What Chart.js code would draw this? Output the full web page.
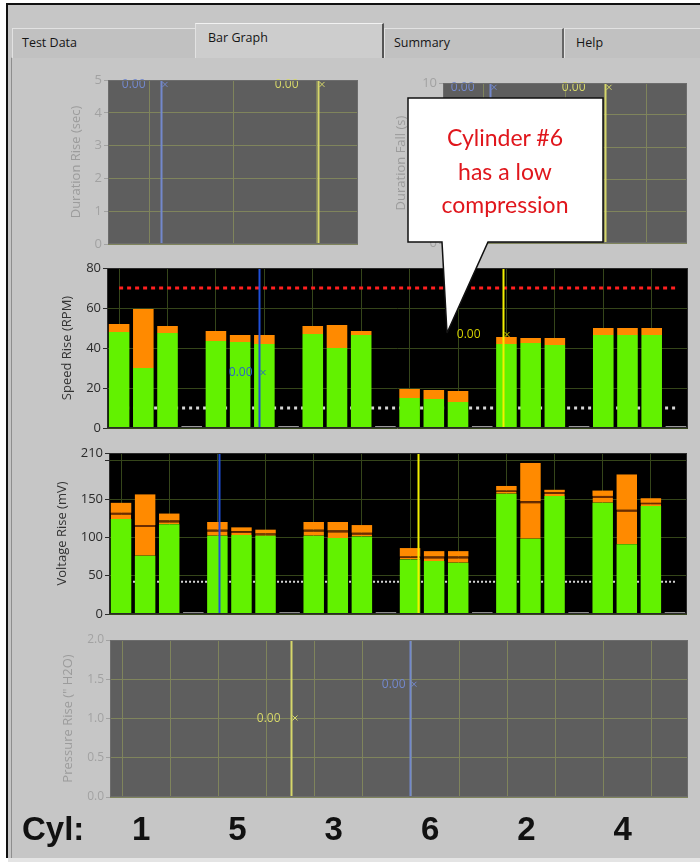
<!DOCTYPE html>
<html lang="en">
  <head>
    <meta charset="utf-8" />
    <title>Bar Graph</title>
    <style>
      * {
        margin: 0;
        padding: 0;
        box-sizing: border-box;
      }
      body {
        width: 700px;
        height: 865px;
        background: #fff;
        position: relative;
        overflow: hidden;
        font-family: 'Open Sans', sans-serif;
      }
      .frame {
        position: absolute;
        left: 6px;
        top: 3px;
        width: 694px;
        height: 855px;
        background: #c6c6c6;
        border-left: 2px solid #111;
        border-top: 2px solid #111;
      }
      .panel {
        position: absolute;
        left: 11px;
        top: 57px;
        width: 689px;
        height: 801px;
        border-left: 1px solid #8e8e8e;
        border-top: 1px solid #dcdcdc;
      }
      .strip {
        position: absolute;
        left: 8px;
        top: 858px;
        width: 692px;
        height: 4px;
        background: #e4e4e4;
      }
      .tab {
        position: absolute;
        top: 28px;
        height: 30px;
        background: #c1c1c1;
        border-top: 1px solid #e2e2e2;
        border-left: 1px solid #e2e2e2;
        font-size: 12.5px;
        line-height: 27px;
        color: #151515;
        padding-left: 9px;
      }
      .tab.sel {
        top: 23px;
        height: 35px;
        background: #cdcdcd;
        line-height: 27px;
        border-top: 1px solid #f2f2f2;
      }
      .chartBox {
        position: absolute;
      }
      .cyl {
        position: absolute;
        left: 22px;
        top: 810px;
        font: bold 33px 'Liberation Sans', sans-serif;
        color: #111;
      }
      svg.callout {
        position: absolute;
        left: 0;
        top: 0;
        width: 700px;
        height: 865px;
        pointer-events: none;
      }
    </style>
  </head>
  <body>
    <div class="frame"></div>
    <div class="panel"></div>
    <div class="strip"></div>
    <div class="tab" style="left: 12px; width: 183px">Test Data</div>
    <div class="tab sel" style="left: 195px; width: 189px; padding-left: 12px; border-right: 2px solid #555">Bar Graph</div>
    <div class="tab" style="left: 384px; width: 180px; border-right: 2px solid #666">Summary</div>
    <div class="tab" style="left: 564px; width: 136px; padding-left: 11px">Help</div>

    <div class="chartBox" style="left: 68px; top: 70px; width: 294px; height: 184px"><canvas id="riseChart"></canvas></div>
    <div class="chartBox" style="left: 393px; top: 73px; width: 298px; height: 180px"><canvas id="fallChart"></canvas></div>
    <div class="chartBox" style="left: 59px; top: 258px; width: 633px; height: 180px"><canvas id="speedChart"></canvas></div>
    <div class="chartBox" style="left: 54px; top: 443px; width: 637px; height: 181px"><canvas id="voltChart"></canvas></div>
    <div class="chartBox" style="left: 60px; top: 630px; width: 632px; height: 230px"><canvas id="pressChart"></canvas></div>
    <div class="cyl">Cyl:</div>

    <svg class="callout" xmlns="http://www.w3.org/2000/svg">
      <path d="M408 98 H603 V242 H488 L447 333 L442 242 H408 Z" fill="#fff" stroke="#111" stroke-width="1.5" />
      <g font-family="Lato, sans-serif" font-size="23" fill="#e0161c" text-anchor="middle">
        <text x="505" y="146">Cylinder #6</text>
        <text x="505" y="180">has a low</text>
        <text x="505" y="213">compression</text>
      </g>
    </svg>

    <script src="https://cdn.jsdelivr.net/npm/chart.js"></script>
    <script>
      // data: 3 readings per cylinder, firing order
      const cylinders = ['1', '5', '3', '6', '2', '4'];
      const speedGreen = [48, 30, 47.5, 43.5, 43, 42, 47, 40, 46.5, 15, 14.5, 13, 42, 42.5, 41.5, 46.5, 46.5, 46.5];
      const speedTop = [52, 59.5, 51, 48.5, 46.5, 46.5, 51, 51.5, 48.5, 19.5, 19, 18.5, 45.5, 45, 45, 50, 50, 50];
      const speedMax = 70;
      const speedMin = 10;
      const voltGreen = [124, 76, 117, 102, 103, 102, 102, 99, 101, 71, 69, 67, 157, 98, 154, 145, 91, 141];
      const voltMid = [132, 116, 122, 110, 108, 105, 110, 109, 106, 75, 75, 75, 161, 147, 159, 154, 136, 145];
      const voltTop = [145, 156, 131, 120, 113, 110, 120, 120, 116, 86, 82, 82, 167, 197, 162, 161, 182, 151];
      const voltMin = 42;
      const gapSpeed = 1;
      const gapVolt = 2.5;
      const voltTicks = [0, 50, 100, 150, 200, 210];

      // 4 slots per cylinder: 3 bars + an empty one
      const slotCount = cylinders.length * 4;
      const slot = (arr) => {
        const out = [];
        cylinders.forEach((c, g) => {
          out.push(arr[g * 3], arr[g * 3 + 1], arr[g * 3 + 2], null);
        });
        return out;
      };
      const gapSlots = (v) => Array.from({ length: slotCount }, (_, i) => (i % 4 === 3 ? v : null));
      const diff = (a, b) => a.map((v, i) => v - b[i]);
      const slotLabels = [];
      cylinders.forEach((c) => slotLabels.push('', c, '', ''));

      const faded = { bg: '#5e5e5e', grid: '#7f845c', tick: '#a2a2a2', title: '#9c9c9c', edge: '#6c6c6c' };
      const active = { bg: '#000000', grid: '#35451a', tick: '#2b2b2b', title: '#333333', edge: '#2a2a2a' };

      const plotBg = {
        id: 'plotBg',
        beforeDraw(chart, args, o) {
          const { ctx, chartArea: c } = chart;
          ctx.save();
          ctx.fillStyle = o.color;
          ctx.fillRect(c.left, c.top, c.width, c.height);
          ctx.restore();
        },
        afterDraw(chart, args, o) {
          const { ctx, chartArea: c } = chart;
          ctx.save();
          ctx.strokeStyle = o.edge;
          ctx.lineWidth = 1;
          ctx.strokeRect(c.left + 0.5, c.top + 0.5, c.width - 1, c.height - 1);
          ctx.restore();
        },
      };

      // LabVIEW style cursors
      const cursors = {
        id: 'cursors',
        afterDatasetsDraw(chart, args, o) {
          const { ctx, chartArea: a, scales } = chart;
          (o.list || []).forEach((c) => {
            const px = Math.round(scales.x.getPixelForValue(c.x)) + 0.5;
            ctx.save();
            ctx.strokeStyle = c.color;
            ctx.lineWidth = 2;
            ctx.beginPath();
            ctx.moveTo(px, a.top);
            ctx.lineTo(px, a.bottom);
            ctx.stroke();
            if (c.label) {
              const py = scales.y.getPixelForValue(c.y);
              ctx.fillStyle = c.text;
              ctx.font = '12px "Open Sans"';
              ctx.textAlign = 'right';
              ctx.textBaseline = 'middle';
              ctx.fillText(c.label, px - c.gap, py);
              ctx.lineWidth = 1;
              ctx.strokeStyle = c.text;
              ctx.beginPath();
              ctx.moveTo(px + 1, py - 3);
              ctx.lineTo(px + 6, py + 2);
              ctx.moveTo(px + 6, py - 3);
              ctx.lineTo(px + 1, py + 2);
              ctx.stroke();
            }
            ctx.restore();
          });
        },
      };

      const yScale = (theme, title, min, max, yW, extra) => ({
        min,
        max,
        stacked: true,
        ticks: { color: theme.tick, font: { family: 'Open Sans', size: 13 }, padding: 2 },
        grid: { color: theme.grid, tickColor: theme.tick, tickLength: 4 },
        border: { display: false },
        title: { display: true, text: title, color: theme.title, font: { family: 'Open Sans', size: 13 }, padding: 0 },
        afterFit: (s) => {
          s.width = yW;
        },
        ...extra,
      });

      const catScale = (theme, xH, ticks) => ({
        type: 'category',
        offset: true,
        stacked: true,
        grid: { offset: false, color: (ctx) => (ctx.index % 2 === 0 ? theme.grid : 'rgba(0,0,0,0)'), drawTicks: false },
        border: { display: false },
        ticks: ticks || { display: false },
        afterFit: (s) => {
          s.height = xH;
        },
      });

      const linScale = (theme) => ({
        type: 'linear',
        min: 0,
        max: 6,
        grid: { color: theme.grid, drawTicks: false },
        border: { display: false },
        ticks: { display: false },
        afterBuildTicks: (s) => {
          s.ticks = [1, 3, 5].map((v) => ({ value: v }));
        },
        afterFit: (s) => {
          s.height = 0;
        },
      });

      const base = (theme, list, scales, padTop, padBottom) => ({
        responsive: true,
        maintainAspectRatio: false,
        animation: false,
        layout: { padding: { left: 0, right: 4, top: padTop, bottom: padBottom } },
        scales,
        plugins: {
          legend: { display: false },
          tooltip: { enabled: false },
          plotBg: { color: theme.bg, edge: theme.edge },
          cursors: { list },
        },
      });

      const bar = (data, color, extra) => ({
        type: 'bar',
        data,
        backgroundColor: color,
        stack: 'bars',
        order: 2,
        categoryPercentage: 1,
        barPercentage: 0.85,
        ...extra,
      });

      const refLine = (value, color, dash, width, order) => ({
        type: 'line',
        data: Array(slotCount).fill(value),
        borderColor: color,
        borderDash: dash,
        borderWidth: width,
        pointRadius: 0,
        stack: 'ref' + value,
        order,
      });

      const blue = '#1f4fd8';
      const yellow = '#f2f000';
      const fadedBlue = '#7388cc';
      const fadedYellow = '#d6d76a';
      const intTicks = (step, theme) => ({
        stepSize: step,
        color: theme.tick,
        font: { family: 'Open Sans', size: 13 },
        padding: 2,
        callback: (v) => Math.round(v),
      });

      // Duration Rise
      new Chart(document.getElementById('riseChart'), {
        type: 'line',
        data: { datasets: [] },
        options: base(
          faded,
          [
            { x: 1.27, color: fadedBlue, text: fadedBlue, label: '0.00', y: 4.85, gap: 16 },
            { x: 5.04, color: fadedYellow, text: fadedYellow, label: '0.00', y: 4.85, gap: 20 },
          ],
          {
            x: linScale(faded),
            y: yScale(faded, 'Duration Rise (sec)', 0, 5, 40, { stacked: false, ticks: intTicks(1, faded) }),
          },
          10,
          10
        ),
        plugins: [plotBg, cursors],
      });

      // Duration Fall
      new Chart(document.getElementById('fallChart'), {
        type: 'line',
        data: { datasets: [] },
        options: base(
          faded,
          [
            { x: 1.16, color: fadedBlue, text: fadedBlue, label: '0.00', y: 9.7, gap: 16 },
            { x: 3.98, color: fadedYellow, text: fadedYellow, label: '0.00', y: 9.7, gap: 20 },
          ],
          {
            x: linScale(faded),
            y: yScale(faded, 'Duration Fall (s)', 0, 10, 50, { stacked: false, ticks: intTicks(2, faded) }),
          },
          10,
          10
        ),
        plugins: [plotBg, cursors],
      });

      // Speed Rise
      new Chart(document.getElementById('speedChart'), {
        type: 'bar',
        data: {
          labels: slotLabels,
          datasets: [
            bar(slot(speedGreen), '#62f200'),
            bar(slot(diff(speedTop, speedGreen)), '#ff8a00'),
            bar(gapSlots(gapSpeed), '#9a9a9a'),
            refLine(speedMax, '#ff2020', [4, 4], 3, 0),
            refLine(speedMin, '#d6d6d6', [3, 4], 3, 9),
          ],
        },
        options: base(
          active,
          [
            { x: 5.78, color: blue, text: '#2a66c4', label: '0.00', y: 27.5, gap: 7 },
            { x: 15.86, color: yellow, text: '#d2d000', label: '0.00', y: 46.5, gap: 23 },
          ],
          {
            x: catScale(active, 0),
            y: yScale(active, 'Speed Rise (RPM)', 0, 80, 48, { ticks: intTicks(20, active) }),
          },
          10,
          10
        ),
        plugins: [plotBg, cursors],
      });

      // Voltage Rise
      new Chart(document.getElementById('voltChart'), {
        type: 'bar',
        data: {
          labels: slotLabels,
          datasets: [
            bar(slot(voltGreen), '#62f200'),
            bar(slot(diff(voltMid, voltGreen)), '#ff8a00', {
              borderColor: '#6b2c00',
              borderWidth: { top: 2, left: 0, right: 0, bottom: 0 },
              borderSkipped: false,
            }),
            bar(slot(diff(voltTop, voltMid)), '#ff8a00'),
            bar(gapSlots(gapVolt), '#9a9a9a'),
            refLine(voltMin, '#d6d6d6', [2, 2], 2, 9),
          ],
        },
        options: base(
          active,
          [
            { x: 4.08, color: blue },
            { x: 12.31, color: yellow },
          ],
          {
            x: catScale(active, 0),
            y: yScale(active, 'Voltage Rise (mV)', 0, 210, 55, {
              afterBuildTicks: (s) => {
                s.ticks = voltTicks.map((v) => ({ value: v }));
              },
              ticks: {
                color: active.tick,
                font: { family: 'Open Sans', size: 13 },
                padding: 2,
                callback: (v) => (v === 200 ? '' : v),
              },
            }),
          },
          10,
          10
        ),
        plugins: [plotBg, cursors],
      });

      // Pressure Rise, its x axis carries the cylinder numbers
      new Chart(document.getElementById('pressChart'), {
        type: 'bar',
        data: { labels: slotLabels, datasets: [] },
        options: base(
          faded,
          [
            { x: 7.02, color: fadedYellow, text: fadedYellow, label: '0.00', y: 1.0, gap: 11 },
            { x: 11.96, color: fadedBlue, text: fadedBlue, label: '0.00', y: 1.43, gap: 5 },
          ],
          {
            x: catScale(faded, 63, {
              display: true,
              autoSkip: false,
              maxRotation: 0,
              padding: 14,
              labelOffset: -5,
              color: '#111',
              font: { family: 'Liberation Sans', size: 33, weight: 'bold' },
            }),
            y: yScale(faded, 'Pressure Rise (" H2O)', 0, 2, 50, {
              stacked: false,
              ticks: {
                stepSize: 0.5,
                color: faded.tick,
                font: { family: 'Open Sans', size: 12 },
                padding: 2,
                callback: (v) => v.toFixed(1),
              },
            }),
          },
          10,
          0
        ),
        plugins: [plotBg, cursors],
      });
    </script>
  </body>
</html>
